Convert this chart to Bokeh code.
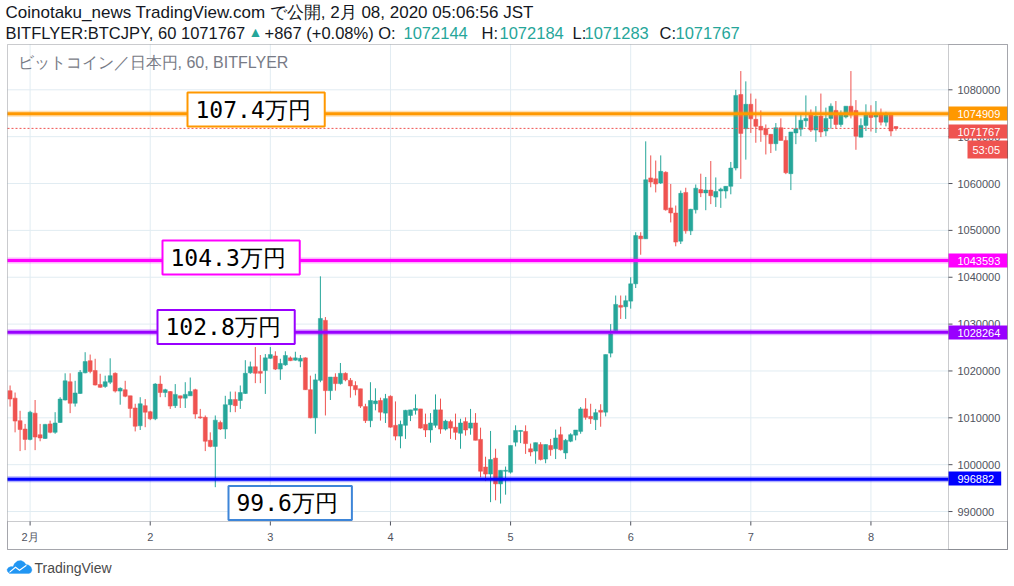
import pandas as pd
from bokeh.plotting import figure
from bokeh.models import (Range1d, FixedTicker, SingleIntervalTicker, BasicTickFormatter,
                          Label, BoxAnnotation, PolyAnnotation, ColumnDataSource)
from bokeh.embed import file_html
from bokeh.resources import INLINE

# ---- data: BITFLYER BTCJPY 60-minute candles (JST) ----
times = pd.date_range("2020-01-31 20:00", periods=178, freq="h")
opens = [
    1015800, 1014200, 1009400, 1007600, 1005400, 1011000, 1006400, 1005600, 1008700, 1006900,
    1009000, 1013800, 1017700, 1013100, 1015200, 1019600, 1022200, 1020100, 1017100, 1016700,
    1017600, 1019500, 1015700, 1016000, 1014700, 1012100, 1008300, 1012600, 1011300, 1009800,
    1017200, 1015400, 1015600, 1012600, 1014700, 1014200, 1014700, 1016000, 1010200, 1010100,
    1005200, 1003900, 1009000, 1007600, 1012800, 1013900, 1013700, 1015200, 1019600, 1020900,
    1019900, 1020100, 1022700, 1023200, 1020400, 1021300, 1022800, 1022300, 1022100, 1022800,
    1016000, 1010000, 1018000, 1030800, 1015800, 1018700, 1017300, 1019500, 1018000, 1016900,
    1016200, 1012400, 1009400, 1013000, 1013700, 1011000, 1014600, 1008400, 1006100, 1008400,
    1010500, 1011600, 1011900, 1008600, 1007400, 1008400, 1011700, 1007600, 1009200, 1008000,
    1006700, 1009200, 1007800, 1008900, 1005400, 999500, 998000, 1001400, 995900, 998600,
    998400, 1004800, 1007100, 1007100, 1003400, 1002900, 1004300, 1001200, 1004100, 1003400,
    1006400, 1002500, 1005000, 1006300, 1007100, 1011900, 1010300, 1009600, 1011600, 1011200,
    1023800, 1028600, 1034000, 1033700, 1034900, 1038600, 1048800, 1048200, 1061200, 1061000,
    1060100, 1062400, 1054800, 1053700, 1047700, 1058100, 1049900, 1054400, 1058700, 1058000,
    1058600, 1057100, 1058400, 1058400, 1059400, 1063300, 1079000, 1071700, 1076900, 1073700,
    1072200, 1071700, 1070500, 1068500, 1071900, 1069200, 1062100, 1070800, 1071600, 1073400,
    1074600, 1071400, 1074400, 1071200, 1073900, 1075600, 1072600, 1074200, 1076500, 1075600,
    1069900, 1072400, 1074900, 1074200, 1074600, 1073100, 1074600, 1072144,
]
highs = [
    1016900, 1015400, 1011500, 1008700, 1011500, 1013800, 1008700, 1008700, 1009400, 1011200,
    1014400, 1019500, 1019500, 1017900, 1020200, 1024000, 1023500, 1022600, 1019400, 1019000,
    1022700, 1019700, 1016500, 1017900, 1014700, 1013000, 1014400, 1014000, 1011500, 1017400,
    1019000, 1016200, 1015700, 1017200, 1014700, 1017600, 1018600, 1016200, 1011900, 1010500,
    1006900, 1010500, 1009400, 1014700, 1015600, 1015600, 1016900, 1022300, 1022000, 1025100,
    1023400, 1023600, 1025100, 1024200, 1022600, 1024200, 1023100, 1024100, 1023400, 1022900,
    1019000, 1019400, 1040200, 1031500, 1018700, 1019500, 1021700, 1019700, 1018500, 1017800,
    1016200, 1013000, 1017600, 1016300, 1014300, 1015100, 1014800, 1013500, 1009400, 1011700,
    1011700, 1015000, 1011900, 1010900, 1011000, 1015000, 1014100, 1009600, 1009600, 1010900,
    1009800, 1010100, 1011900, 1011000, 1007900, 1001700, 1007200, 1003400, 998800, 999600,
    1004100, 1008400, 1007300, 1008400, 1004500, 1004700, 1004800, 1004300, 1005500, 1007500,
    1008100, 1005500, 1006700, 1007400, 1012300, 1014200, 1013000, 1011900, 1012900, 1023500,
    1030000, 1036100, 1036100, 1036100, 1040000, 1049600, 1049600, 1069000, 1066000, 1064900,
    1066000, 1062600, 1059900, 1055300, 1058500, 1059100, 1054600, 1059800, 1062100, 1061400,
    1064800, 1061300, 1059100, 1059400, 1064600, 1080000, 1084000, 1081800, 1079200, 1078100,
    1075600, 1072600, 1070500, 1072900, 1073900, 1070100, 1071000, 1074600, 1074600, 1078800,
    1075800, 1076500, 1079200, 1076200, 1077100, 1077600, 1075600, 1076500, 1084000, 1077800,
    1073900, 1076900, 1076700, 1077600, 1076000, 1075300, 1075100, 1072184,
]
lows = [
    1012400, 1006900, 1002900, 1003100, 1005200, 1003100, 1005000, 1005500, 1006700, 1006600,
    1008900, 1013700, 1011000, 1012400, 1015100, 1019500, 1019500, 1016900, 1016400, 1016400,
    1017200, 1015400, 1012800, 1014400, 1010000, 1007100, 1007400, 1008000, 1009500, 1009500,
    1014400, 1014400, 1011900, 1012100, 1012100, 1012100, 1014700, 1009800, 1009800, 1002900,
    1003700, 995200, 1007400, 1005500, 1011200, 1011200, 1011900, 1015100, 1019400, 1017400,
    1017400, 1015100, 1022600, 1020200, 1018100, 1021100, 1022100, 1022200, 1020800, 1016000,
    1009900, 1006600, 1017600, 1010500, 1013800, 1015800, 1017100, 1017800, 1014300, 1014800,
    1012100, 1008900, 1008000, 1011600, 1009400, 1008900, 1007900, 1005200, 1003500, 1005500,
    1009300, 1010700, 1007700, 1005900, 1004700, 1007900, 1006600, 1007300, 1005500, 1005300,
    1003400, 1006200, 1006400, 1005200, 997300, 996500, 992000, 992400, 991700, 993600,
    998100, 1003900, 1004600, 1002300, 1001800, 1000200, 1000900, 1000300, 1001900, 1001200,
    1003000, 1001200, 1004800, 1005200, 1006600, 1009600, 1008700, 1007400, 1008100, 1010300,
    1022900, 1028600, 1031100, 1031100, 1033300, 1037700, 1044800, 1048200, 1059200, 1058100,
    1059900, 1054200, 1051700, 1046600, 1047100, 1049300, 1049000, 1053600, 1057100, 1054300,
    1055600, 1055000, 1054800, 1056800, 1057700, 1062800, 1061000, 1065100, 1070800, 1068700,
    1068900, 1066200, 1066500, 1067000, 1069200, 1062000, 1058600, 1068400, 1070100, 1072100,
    1071000, 1068900, 1069900, 1070100, 1071700, 1071700, 1072100, 1073900, 1073900, 1067200,
    1069900, 1071200, 1071100, 1070800, 1072400, 1072200, 1070100, 1071283,
]
closes = [
    1014000, 1009300, 1007500, 1005400, 1011200, 1005900, 1005700, 1008600, 1006900, 1008900,
    1014000, 1017900, 1013100, 1015300, 1019700, 1022000, 1019900, 1017000, 1016500, 1017700,
    1019000, 1015700, 1016300, 1014600, 1012000, 1008200, 1013000, 1011200, 1009800, 1017200,
    1015400, 1016000, 1012500, 1015000, 1014200, 1015000, 1015600, 1010800, 1010000, 1005000,
    1003900, 1009500, 1007600, 1012800, 1013900, 1012600, 1015400, 1019500, 1020900, 1019500,
    1019500, 1022800, 1023500, 1020400, 1021600, 1023300, 1022200, 1022800, 1022700, 1016000,
    1010000, 1018100, 1031200, 1015800, 1018700, 1017300, 1019500, 1018100, 1016800, 1016000,
    1012500, 1009400, 1013700, 1013600, 1011200, 1014100, 1008000, 1006100, 1008600, 1011600,
    1011700, 1012000, 1007800, 1007400, 1008900, 1011700, 1007600, 1009300, 1007800, 1006900,
    1008900, 1007400, 1008900, 1005200, 998600, 998000, 1001100, 995900, 998800, 998800,
    1004100, 1007300, 1007300, 1004500, 1002700, 1004700, 1001100, 1004300, 1003200, 1005700,
    1003200, 1005200, 1006400, 1007400, 1011900, 1010100, 1009800, 1011100, 1011200, 1023500,
    1027900, 1034200, 1033600, 1035000, 1038600, 1048900, 1048200, 1060800, 1060300, 1059900,
    1062600, 1054400, 1053700, 1047500, 1057900, 1049900, 1054500, 1059000, 1058000, 1058600,
    1057400, 1058300, 1058800, 1059400, 1063300, 1078800, 1070700, 1076900, 1073800, 1072200,
    1071400, 1070400, 1068500, 1071900, 1069200, 1062300, 1071000, 1071700, 1073500, 1073900,
    1071400, 1074400, 1071000, 1073900, 1076500, 1072600, 1074600, 1076500, 1074600, 1070100,
    1072400, 1074600, 1074100, 1074600, 1073100, 1074600, 1071200, 1071767,
]

day_ticks = pd.date_range("2020-02-01", periods=8, freq="D")
day_labels = ["2月", "2", "3", "4", "5", "6", "7", "8"]
price_ticks = [990000, 1000000, 1010000, 1020000, 1030000, 1040000,
               1050000, 1060000, 1070000, 1080000]

levels = [1074909, 1043593, 1028264, 996882]
level_colors = ["#FF9800", "#FF00FF", "#9900FF", "#0000FF"]
level_names = ["107.4万円", "104.3万円", "102.8万円", "99.6万円"]
level_box_colors = ["#FF9800", "#FF00FF", "#9900FF", "#3D85D8"]
last_price = 1071767

# ---- layout calibration (canvas pixels <-> data) ----
W, H = 1012, 584
def hx(px):            # canvas x -> hours since 2020-02-01 00:00 JST
    return (px - 29.6) / 5.005
def pp(py):            # canvas y -> price
    return 1080000 - (py - 89.3) * 213.4
def sy(py):            # canvas y -> frame screen y (from bottom)
    return H - py

PANE_L, PANE_R = hx(7), hx(948)
PANE_T, PANE_B = pp(44), pp(521)

origin = pd.Timestamp("2020-02-01")
hours = [(t - origin) / pd.Timedelta(hours=1) for t in times]
tick_hours = [int((t - origin) / pd.Timedelta(hours=1)) for t in day_ticks]

UP, DOWN = "#26A69A", "#EF5350"
AX = "#50535E"
GRID = "#E1ECF2"
colors = [UP if c >= o else DOWN for o, c in zip(opens, closes)]
src = ColumnDataSource(dict(
    t=hours, high=highs, low=lows,
    top=[max(o, c) for o, c in zip(opens, closes)],
    bottom=[min(o, c) for o, c in zip(opens, closes)],
    color=colors,
))

p = figure(width=W, height=H, output_backend="svg", toolbar_location=None,
           x_range=Range1d(hx(0), hx(W)), y_range=Range1d(pp(H), pp(0)),
           y_axis_location="right", min_border=0,
           min_border_left=0, min_border_right=0, min_border_top=0, min_border_bottom=0,
           background_fill_color="white", border_fill_color="white",
           outline_line_color=None)
p.xgrid.visible = False
p.ygrid.visible = False

# axes: labels drawn inward, onto the time / price scales of the pane
xa = p.xaxis[0]
xa.ticker = FixedTicker(ticks=tick_hours)
xa.major_label_overrides = {h: l for h, l in zip(tick_hours, day_labels)}
xa.bounds = (PANE_L, PANE_R)
xa.major_label_standoff = -54
ya = p.yaxis[0]
ya.ticker = SingleIntervalTicker(interval=10000, num_minor_ticks=0)
ya.formatter = BasicTickFormatter(use_scientific=False)
ya.bounds = (PANE_B, PANE_T)
ya.major_label_standoff = -55
for ax in (xa, ya):
    ax.axis_line_color = None
    ax.major_tick_line_color = None
    ax.minor_tick_line_color = None
    ax.major_tick_out = 0
    ax.major_tick_in = 0
    ax.minor_tick_out = 0
    ax.minor_tick_in = 0
    ax.major_label_text_font_size = "11px"
    ax.major_label_text_color = AX
    ax.major_label_text_font = "Liberation Sans"

# grid lines limited to the pane
p.segment(x0=tick_hours, x1=tick_hours, y0=[PANE_B] * len(tick_hours), y1=[PANE_T] * len(tick_hours),
          line_color=GRID, line_width=1, level="underlay")
p.segment(x0=[PANE_L] * len(price_ticks), x1=[PANE_R] * len(price_ticks), y0=price_ticks, y1=price_ticks,
          line_color=GRID, line_width=1, level="underlay")
# tick marks on the scales
p.segment(x0=tick_hours, x1=tick_hours, y0=[PANE_B] * len(tick_hours), y1=[pp(525)] * len(tick_hours),
          line_color=AX, line_width=1)
p.segment(x0=[PANE_R] * len(price_ticks), x1=[hx(952)] * len(price_ticks), y0=price_ticks, y1=price_ticks,
          line_color=AX, line_width=1)

# candles
p.segment(x0="t", y0="high", x1="t", y1="low", line_color="color", line_width=1, source=src)
p.vbar(x="t", width=0.8, top="top", bottom="bottom", fill_color="color",
       line_color="color", line_width=0.5, source=src)

# horizontal level lines
lsrc = ColumnDataSource(dict(x0=[PANE_L] * 4, x1=[PANE_R] * 4, y=levels, c=level_colors))
p.segment(x0="x0", x1="x1", y0="y", y1="y", line_color="c", line_width=6, line_alpha=0.3, source=lsrc)
p.segment(x0="x0", x1="x1", y0="y", y1="y", line_color="c", line_width=3, source=lsrc)
p.segment(x0=[PANE_L], x1=[PANE_R], y0=[last_price], y1=[last_price],
          line_color=DOWN, line_width=1, line_dash="2 2")

# boxed level texts inside the chart (x = left edge of box)
box_pos = [(187, 109), (162, 257), (157, 326.5), (228, 502.5)]
for (bx, by), txt, bc in zip(box_pos, level_names, level_box_colors):
    p.add_layout(Label(x=bx, y=sy(by), x_units="screen", y_units="screen", text=txt,
                       text_font="DejaVu Sans Mono", text_font_size="23px", text_color="black",
                       text_baseline="middle", background_fill_color="white",
                       border_line_color=bc, border_line_width=2,
                       padding=dict(left=8, right=14, top=4, bottom=4)))

# price-scale tags (x = left edge of tag)
tags = [("1074909", "#FF9800", 113), ("1071767", DOWN, 131),
        ("1043593", "#FF00FF", 260), ("1028264", "#9900FF", 332), ("996882", "#0000FF", 478)]
for txt, col, ty in tags:
    p.add_layout(Label(x=948, y=sy(ty), x_units="screen", y_units="screen", text=txt,
                       text_color="white", text_font="Liberation Sans", text_font_size="11px",
                       text_baseline="middle", background_fill_color=col,
                       padding=dict(left=9, right=7, top=3, bottom=3)))
p.add_layout(Label(x=967, y=sy(149), x_units="screen", y_units="screen", text="53:05",
                   text_color="white", text_font="Liberation Sans", text_font_size="11px",
                   text_baseline="middle", background_fill_color=DOWN,
                   padding=dict(left=5, right=8, top=3, bottom=3)))

# pane borders
for l, r, t, b in [(7, 1007, 44, 549), (948, 1007, 44, 549), (7, 1007, 521, 549)]:
    p.add_layout(BoxAnnotation(left=l, right=r, top=sy(t), bottom=sy(b),
                               left_units="screen", right_units="screen",
                               bottom_units="screen", top_units="screen",
                               fill_color=None, fill_alpha=0, line_color=AX, line_width=1))

# header texts
DARK = "#131722"
def lab(x, py, text, color=DARK, size="16.5px", font="Liberation Sans"):
    p.add_layout(Label(x=x, y=sy(py), x_units="screen", y_units="screen", text=text,
                       text_color=color, text_font=font, text_font_size=size,
                       text_baseline="middle"))

lab(5, 12, "Coinotaku_news TradingView.com で公開, 2月 08, 2020 05:06:56 JST", size="17px")
lab(5, 32, "BITFLYER:BTCJPY, 60 1071767")
lab(248, 31, "▲", UP, "14px")
lab(264, 32, "+867 (+0.08%) O:")
lab(403, 32, "1072144", UP)
lab(481, 32, "H:")
lab(499, 32, "1072184", UP)
lab(572, 32, "L:")
lab(584, 32, "1071283", UP)
lab(659, 32, "C:")
lab(675, 32, "1071767", UP)
lab(17, 62, "ビットコイン／日本円, 60, BITFLYER", "#787B86", "16px")

# TradingView logo
cloud = [(3, 14), (1, 12), (0.5, 10), (2, 8), (4.5, 7), (6.5, 7.2), (8, 4), (11, 1.5), (14.5, 1),
         (17.5, 2.5), (19.5, 5), (22, 5.5), (24.5, 7.5), (25.5, 10.5), (24.5, 13), (22.5, 14)]
p.add_layout(PolyAnnotation(xs=[6 + a for a, b in cloud], ys=[sy(559 + b) for a, b in cloud],
                            xs_units="screen", ys_units="screen",
                            fill_color="#2196F3", fill_alpha=1, line_color="#2196F3"))
zig = [(3, 12), (9, 7), (13, 10), (20, 5), (20, 6.6), (13, 11.6), (9, 8.6), (3, 13.6)]
p.add_layout(PolyAnnotation(xs=[6 + a for a, b in zig], ys=[sy(559 + b) for a, b in zig],
                            xs_units="screen", ys_units="screen",
                            fill_color="white", fill_alpha=1, line_color=None))
lab(34, 567, "TradingView", "#4A4A4A", "14px")

open("out.html", "w").write(file_html(p, INLINE))
